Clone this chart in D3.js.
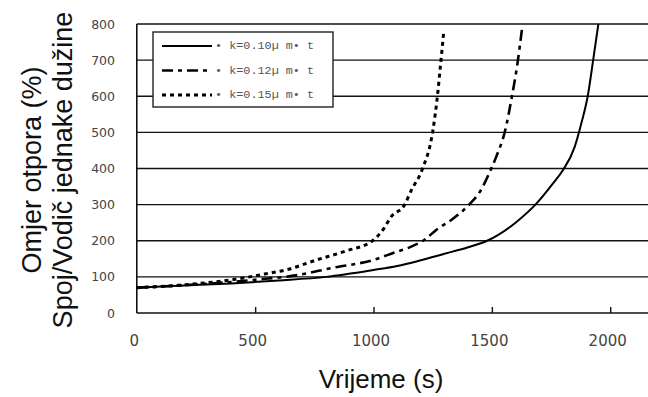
<!DOCTYPE html>
<html>
<head>
<meta charset="utf-8">
<script src="https://cdn.jsdelivr.net/npm/d3@7"></script>
<style>
    html, body { margin: 0; padding: 0; background: #fff; }
    svg { display: block; }
</style>
</head>
<body>
<svg id="svg-container" width="648" height="397"></svg>
<script>
var xTicks = [0, 500, 1000, 1500, 2000];
var yTicks = [0, 100, 200, 300, 400, 500, 600, 700, 800];

var seriesNames = ["k=0.10\u00b5 m\u2022 t", "k=0.12\u00b5 m\u2022 t", "k=0.15\u00b5 m\u2022 t"];

// vrijeme (s), omjer otpora (%)
var k010 = [
    [0, 70], [200, 76], [400, 82], [600, 90], [800, 100], [1000, 119], [1100, 130],
    [1200, 146], [1300, 164], [1400, 182], [1480, 200], [1600, 250], [1690, 304],
    [1760, 360], [1800, 395], [1850, 460], [1880, 530], [1905, 600], [1928, 700], [1950, 800]
];
var k012 = [
    [0, 70], [200, 77], [400, 86], [500, 92], [680, 105], [820, 124], [1000, 147],
    [1100, 170], [1150, 181], [1220, 205], [1265, 230], [1330, 258], [1410, 304],
    [1450, 336], [1495, 396], [1520, 435], [1555, 502], [1585, 600], [1608, 690], [1628, 790]
];
var k015 = [
    [0, 70], [200, 78], [450, 97], [540, 108], [640, 121], [760, 147], [875, 170],
    [1000, 202], [1045, 235], [1075, 267], [1130, 298], [1160, 340], [1205, 396],
    [1250, 502], [1270, 600], [1284, 692], [1297, 780]
];

var seriesData = [k010, k012, k015];
var seriesDash = ["none", "11,5,4,5", "4,4"];
var seriesWidth = [2, 2.6, 3];

var margin = { left: 136.8, top: 24, bottom: 313 };

var svg = d3.select("#svg-container");

var x = d3.scaleLinear()
    .domain([0, 2200])
    .range([margin.left, margin.left + 2200 * 0.2367]);

var y = d3.scaleLinear()
    .domain([0, 800])
    .range([margin.bottom, margin.top]);

// horizontal grid
svg.append("g")
    .selectAll("line")
    .data(yTicks.filter(function (d) { return d > 0; }))
    .enter().append("line")
    .attr("x1", x(0))
    .attr("x2", 648)
    .attr("y1", function (d) { return y(d); })
    .attr("y2", function (d) { return y(d); })
    .attr("stroke", "#111")
    .attr("stroke-width", 1.4);

// y axis labels
var yAxis = d3.axisLeft(y).tickValues(yTicks).tickSize(0).tickPadding(0);
var gY = svg.append("g")
    .attr("transform", "translate(115,0)")
    .call(yAxis);
gY.select(".domain").remove();
gY.selectAll("text")
    .attr("font-family", "DejaVu Sans, sans-serif")
    .attr("font-size", "12.5")
    .attr("fill", "#444");

// x axis, ticks pointing up
var xAxis = d3.axisBottom(x).tickValues(xTicks).tickFormat(d3.format("d")).tickSize(-6).tickPadding(22);
var gX = svg.append("g")
    .attr("transform", "translate(0," + margin.bottom + ")")
    .call(xAxis);
gX.select(".domain").remove();
gX.selectAll(".tick line")
    .attr("stroke", "#111")
    .attr("stroke-width", 1.4)
    .filter(function (d) { return d === 0; }).remove();
gX.selectAll("text")
    .attr("font-family", "DejaVu Sans, sans-serif")
    .attr("font-size", "15")
    .attr("fill", "#444")
    .attr("dx", "-3");

svg.append("line")
    .attr("x1", x(0)).attr("x2", 648)
    .attr("y1", y(0)).attr("y2", y(0))
    .attr("stroke", "#111")
    .attr("stroke-width", 1.6);

svg.append("line")
    .attr("x1", x(0)).attr("x2", x(0))
    .attr("y1", y(0)).attr("y2", y(800))
    .attr("stroke", "#111")
    .attr("stroke-width", 1.6);

// curves
var line = d3.line()
    .x(function (d) { return x(d[0]); })
    .y(function (d) { return y(d[1]); })
    .curve(d3.curveMonotoneX);

svg.append("g")
    .selectAll("path")
    .data(seriesData)
    .enter().append("path")
    .attr("d", line)
    .attr("fill", "none")
    .attr("stroke", "#000")
    .attr("stroke-width", function (d, i) { return seriesWidth[i]; })
    .attr("stroke-dasharray", function (d, i) { return seriesDash[i]; });

// legend
var gLegend = svg.append("g");

gLegend.append("rect")
    .attr("x", 153)
    .attr("y", 32)
    .attr("width", 180)
    .attr("height", 75)
    .attr("fill", "#fff")
    .attr("stroke", "#222")
    .attr("stroke-width", 1.4);

var rows = gLegend.selectAll("g.row")
    .data(seriesNames)
    .enter().append("g")
    .attr("class", "row")
    .attr("transform", function (d, i) { return "translate(0," + (46 + i * 24.5) + ")"; });

rows.append("line")
    .attr("x1", 162)
    .attr("x2", 212)
    .attr("y1", 0)
    .attr("y2", 0)
    .attr("stroke", "#000")
    .attr("stroke-width", function (d, i) { return seriesWidth[i]; })
    .attr("stroke-dasharray", function (d, i) { return seriesDash[i]; });

rows.append("text")
    .attr("x", 215)
    .attr("y", 0)
    .attr("dominant-baseline", "middle")
    .attr("font-family", "Liberation Mono, Courier New, monospace")
    .attr("font-size", "11.8")
    .attr("fill", "#555")
    .text(function (d) { return "\u2022 " + d; });

// axis titles
svg.append("text")
    .attr("x", 381)
    .attr("y", 388)
    .attr("text-anchor", "middle")
    .attr("font-family", "Liberation Sans, Arial, sans-serif")
    .attr("font-size", "26")
    .attr("fill", "#111")
    .text("Vrijeme (s)");

var gTitle = svg.append("g")
    .attr("transform", "translate(0,170) rotate(-90)");

gTitle.append("text")
    .attr("x", 0)
    .attr("y", 41)
    .attr("text-anchor", "middle")
    .attr("font-family", "Liberation Sans, Arial, sans-serif")
    .attr("font-size", "27")
    .attr("fill", "#111")
    .text("Omjer otpora (%)");

gTitle.append("text")
    .attr("x", 0)
    .attr("y", 72)
    .attr("text-anchor", "middle")
    .attr("font-family", "Liberation Sans, Arial, sans-serif")
    .attr("font-size", "27")
    .attr("fill", "#111")
    .text("Spoj/Vodič jednake dužine");
</script>
</body>
</html>
